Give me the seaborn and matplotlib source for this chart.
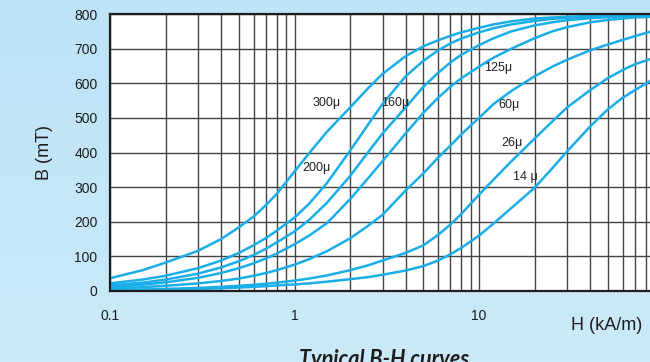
#!/usr/bin/env python

# Typical B-H curves for powder cores, one line per permeability grade

import numpy as np
import pandas as pd
from matplotlib import pyplot as plt
from matplotlib.colors import LinearSegmentedColormap
from matplotlib.ticker import LogLocator, NullFormatter
import seaborn as sns

# H in kA/m, B in mT
H = [0.1, 0.15, 0.2, 0.3, 0.4, 0.5, 0.6, 0.7, 0.8, 1, 1.2, 1.5, 2, 2.5, 3, 4,
     5, 6, 7, 8, 10, 12, 15, 20, 25, 30, 40, 50, 60, 70, 85]
b_300 = [37, 60, 82, 116, 150, 184, 215, 248, 280, 345, 398, 460, 530, 585, 627, 678,
         707, 724, 737, 747, 760, 770, 779, 787, 790, 792, 794, 795, 796, 796, 797]
b_200 = [22, 33, 44, 66, 88, 110, 132, 153, 174, 212, 252, 312, 405, 480, 540, 620,
         665, 695, 715, 729, 747, 759, 770, 780, 786, 789, 792, 794, 795, 795, 796]
b_160 = [16, 24, 33, 50, 68, 86, 104, 122, 140, 172, 205, 255, 332, 400, 455, 530,
         590, 630, 660, 682, 710, 730, 750, 767, 776, 782, 788, 791, 793, 794, 795]
b_125 = [12, 18, 25, 38, 52, 66, 80, 94, 108, 135, 160, 196, 265, 325, 375, 455,
         515, 558, 590, 614, 648, 674, 700, 730, 750, 762, 776, 783, 787, 790, 792]
b_60 = [7, 11, 15, 22, 29, 36, 44, 52, 60, 76, 92, 115, 152, 188, 220, 290,
        340, 385, 420, 452, 500, 540, 578, 620, 648, 668, 695, 712, 725, 736, 749]
b_26 = [3, 4, 6, 9, 12, 15, 18, 21, 24, 30, 36, 45, 60, 74, 88, 110,
        132, 162, 192, 222, 278, 322, 375, 440, 490, 530, 580, 615, 638, 655, 670]
b_14 = [2, 3, 4, 6, 8, 10, 12, 14, 16, 19, 22, 27, 34, 40, 47, 59,
        72, 88, 106, 124, 160, 195, 240, 298, 355, 403, 475, 525, 558, 580, 607]

grades = ['300μ', '200μ', '160μ', '125μ', '60μ', '26μ', '14 μ']
curves = [b_300, b_200, b_160, b_125, b_60, b_26, b_14]

# label positions (H, B) for each grade
label_h = [1.5, 1.31, 3.5, 12.7, 14.5, 15.0, 17.8]
label_b = [543, 355, 543, 644, 538, 428, 329]

df = pd.concat([pd.DataFrame({'H': H, 'B': b, 'Grade': g}) for g, b in zip(grades, curves)],
               ignore_index=True)

sns.set_style('white')
plt.rcParams['font.family'] = ['Liberation Sans', 'DejaVu Sans']

line_col = '#19aee8'
grid_col = '#444444'
dark = '#1e1e1e'

fig = plt.figure(figsize=(6.5, 3.62), dpi=100)

# light blue gradient behind everything
bg = fig.add_axes([0, 0, 1, 1], zorder=-10)
grad = np.linspace(0, 1, 256).reshape(-1, 1)
cmap = LinearSegmentedColormap.from_list('bg', ['#cbeaf9', '#bce3f7'])
bg.imshow(grad, cmap=cmap, aspect='auto', extent=[0, 1, 0, 1], origin='lower')
bg.axis('off')

ax = fig.add_axes([110 / 650, 1 - 291 / 362, 553.5 / 650, 277 / 362])
ax.set_facecolor('white')
sns.lineplot(data=df, x='H', y='B', hue='Grade', palette=[line_col] * len(grades),
             legend=False, ax=ax, linewidth=1.8, estimator=None)

ax.set_xscale('log')
ax.set_xlim(0.1, 100)
ax.set_ylim(0, 800)
ax.set_xticks([0.1, 1, 10])
ax.set_xticklabels(['0.1', '1', '10'])
ax.xaxis.set_minor_locator(LogLocator(base=10, subs=range(2, 10)))
ax.xaxis.set_minor_formatter(NullFormatter())
ax.set_yticks(range(0, 801, 100))

ax.set_axisbelow(True)
ax.grid(which='both', axis='x', color=grid_col, linewidth=1.0)
ax.grid(which='major', axis='y', color=grid_col, linewidth=1.0)

ax.tick_params(axis='x', which='major', direction='out', length=6, width=1,
               color=dark, pad=7, labelsize=10, labelcolor=dark)
ax.tick_params(axis='x', which='minor', length=0)
ax.tick_params(axis='y', length=0, pad=9, labelsize=10, labelcolor=dark)

for side in ['left', 'top', 'bottom']:
    ax.spines[side].set_color(dark)
    ax.spines[side].set_linewidth(1.6)
ax.spines['right'].set_visible(False)

ax.set_xlabel('')
ax.set_ylabel('B (mT)', fontsize=13, color=dark)
ax.yaxis.set_label_coords(-0.103, 0.5)

for g, x, y in zip(grades, label_h, label_b):
    ax.text(x, y, g, ha='center', va='center', fontsize=9, color='#222222')

fig.text(607 / 650, 1 - 325 / 362, 'H (kA/m)', ha='center', va='center',
         fontsize=13, color=dark)
fig.text(384 / 650, 1 - 349 / 362, 'Typical B-H curves', ha='center', va='top',
         fontsize=15.5, fontweight='bold', fontstyle='italic',
         family=['Lato', 'DejaVu Sans'], color=dark)

fig.savefig('out.png', dpi=100)
